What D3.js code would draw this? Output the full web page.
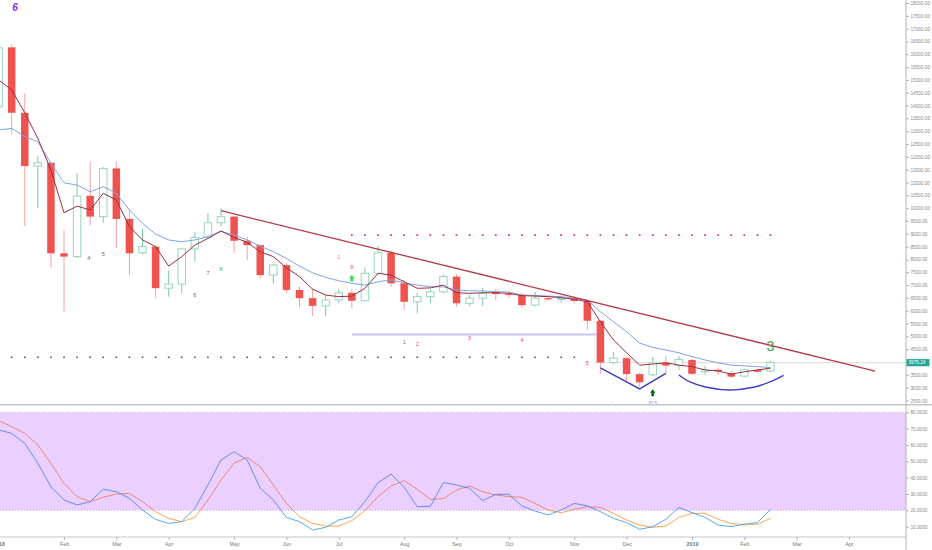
<!DOCTYPE html>
<html><head><meta charset="utf-8">
<script src="https://cdn.jsdelivr.net/npm/d3@7"></script>
<style>body{margin:0;background:#fff;overflow:hidden}svg{display:block;font-family:"Liberation Sans",Arial,sans-serif}</style>
</head><body><svg id="c" width="932" height="550"></svg>
<script>
// ---------- DATA ----------
const weeks = ["2018-01-01","2018-01-08","2018-01-15","2018-01-22","2018-01-29","2018-02-05","2018-02-12","2018-02-19","2018-02-26","2018-03-05",
"2018-03-12","2018-03-19","2018-03-26","2018-04-02","2018-04-09","2018-04-16","2018-04-23","2018-04-30","2018-05-07","2018-05-14",
"2018-05-21","2018-05-28","2018-06-04","2018-06-11","2018-06-18","2018-06-25","2018-07-02","2018-07-09","2018-07-16","2018-07-23",
"2018-07-30","2018-08-06","2018-08-13","2018-08-20","2018-08-27","2018-09-03","2018-09-10","2018-09-17","2018-09-24","2018-10-01",
"2018-10-08","2018-10-15","2018-10-22","2018-10-29","2018-11-05","2018-11-12","2018-11-19","2018-11-26","2018-12-03","2018-12-10",
"2018-12-17","2018-12-24","2018-12-31","2019-01-07","2019-01-14","2019-01-21","2019-01-28","2019-02-04","2019-02-11","2019-02-18"];
const open = [13950,16270,13720,11640,11770,8240,8110,10480,9670,11550,
 9580,8260,8500,6880,7040,8410,8860,9430,9670,8730,
 8560,7390,7780,6810,6490,6190,6420,6700,6390,7460,
 8260,7070,6350,6550,6740,7330,6290,6490,6740,6650,
 6620,6220,6490,6440,6480,6390,5610,3980,4150,3530,
 3500,3970,3860,4080,3620,3700,3560,3450,3690,3650];
const high = [17100,16390,14480,12030,11800,9150,11360,11810,11600,11810,
 9930,9210,8550,7560,8420,9080,9800,9990,9700,8890,
 8580,7850,7850,6940,6880,6610,6840,6840,7690,8520,
 8340,7200,6700,6850,7410,7430,6610,6880,6840,6750,
 6700,6740,6560,6560,6560,6420,5640,4400,4200,3580,
 4200,4235,4230,4130,3845,3780,3650,3740,3740,4040];
const low = [13500,12890,9300,9990,7690,5960,8050,9340,9430,8430,
 7390,8200,6490,6550,6680,7910,8800,9280,8260,7980,
 7260,7070,6680,6160,5800,5800,6310,6100,6350,7400,
 6940,6030,5900,6290,6680,6160,6190,6190,6420,6500,
 6130,6180,6380,6320,6300,5250,3530,3920,3230,3040,
 3450,3560,3690,3500,3500,3500,3380,3420,3580,3600];
const close = [16250,13720,11640,11770,8240,8110,10470,9670,11550,9580,
 8240,8500,6880,7040,8410,8860,9430,9670,8730,8560,
 7390,7780,6810,6490,6190,6420,6700,6390,7460,8260,
 7070,6350,6550,6740,7330,6290,6490,6680,6650,6620,
 6220,6490,6440,6480,6380,5610,3980,4150,3530,3210,
 3970,3860,4100,3540,3700,3640,3430,3700,3620,3975.24];
const maFast = [15000,14610,13720,12720,11490,9820,10080,9930,10580,10320,
 9280,8760,8500,7740,8110,8560,8820,9110,8860,8670,
 8300,8110,7680,7330,6840,6610,6550,6570,6875,7460,
 7390,7130,6875,6890,7000,6700,6680,6700,6700,6680,
 6590,6570,6550,6510,6450,6350,5570,4860,4360,3880,
 3920,3970,3880,3820,3690,3650,3530,3620,3690,3760];
const maSlow = [13050,13110,12790,12590,11750,10990,10900,10640,10840,10580,
 9930,9410,8990,8760,8690,8760,8890,9100,8950,8760,
 8520,8300,8040,7740,7480,7300,7170,7070,7000,7130,
 7200,7090,7000,6940,6930,6810,6780,6770,6740,6730,
 6610,6600,6570,6550,6480,6420,5960,5570,5180,4740,
 4570,4470,4360,4210,4080,3970,3880,3850,3820,3780];
const stochK = [69.2,67.1,61.0,48.8,34.5,26.3,23.3,25.3,32.9,31.4,
 27.4,20.2,14.5,12.0,13.1,21.2,35.5,50.8,55.9,50.8,
 33.5,26.3,15.7,13.1,8.0,9.6,14.1,16.1,25.3,36.9,
 42.2,34.1,22.2,22.5,37.0,35.5,33.5,25.9,29.8,29.8,
 22.7,19.6,17.2,20.2,24.3,22.7,19.2,15.1,12.5,8.4,
 10.0,14.5,21.8,18.6,15.7,11.0,10.0,11.6,12.5,20.6];
const stochD = [74.9,71.2,67.1,60.0,48.8,36.5,28.4,25.3,28.0,30.0,
 30.4,25.3,19.2,15.1,13.1,15.7,26.3,38.6,48.8,52.4,
 46.7,35.5,24.3,16.1,12.0,10.4,10.4,13.7,19.8,28.4,
 34.9,38.2,32.9,26.7,27.2,32.5,34.9,31.4,29.4,28.4,
 28.0,24.3,20.2,18.6,20.6,22.2,21.8,18.2,14.1,11.0,
 9.6,10.4,15.7,18.2,18.2,14.5,12.0,11.0,11.6,15.1];
const priceTicks = [2500,3000,3500,4000,4500,5000,5500,6000,6500,7000,7500,8000,8500,9000,9500,10000,
 10500,11000,11500,12000,12500,13000,13500,14000,14500,15000,15500,16000,16500,17000,17500,18000];
const oscTicks = [10,20,30,40,50,60,70,80];
const monthIdx = [0,5,9,13,18,22,26,31,35,39,44,48,53,57,61,65];
const monthLabels = ["2018","Feb","Mar","Apr","May","Jun","Jul","Aug","Sep","Oct","Nov","Dec","2019","Feb","Mar","Apr"];
const lastPrice = 3975.24;
// drawings (bar index, price)
const trendLine = [[17,9900],[67,3650]];
const vPattern = [[46,3770],[49,2950],[51,3560]];
const bowl = [[52.0,3494],[52.8,3233],[54.1,3015],[55.9,2909],[57.7,3015],[59.0,3233],[60.0,3483]];
const supportLine = [[27,5075],[45.7,5075]];
const redDotLevel = 8950, redDotFrom = 27, redDotTo = 59;
const greyDotLevel = 4185, greyDotFrom = 1, greyDotTo = 44;
const annotIdx = [6.9,8,15,16,17,26,27,31,32,36,40,45];
const annotPrice = [8060,8200,6610,7490,7630,8110,7690,4790,4690,4950,4860,3975];
const annotText = ["4","5","6","7","8","1","9","1","2","3","4","5"];
const bigLabel = {i:59, p:4640, t:"3"};
const cornerLabel = {i:1.25, p:17830, t:"6"};
const upArrow = {i:27, p:7264};
const darkArrow = {i:50, p:2804};
const smallLabel = {i:50, p:2415, t:"815"};

// ---------- STYLES ----------
const annotColor = ["#666","#666","#666","#666","#4caf50","#e0809a","#e0457b","#8c6d9c","#e0457b","#e0457b","#e0457b","#e0457b"];

// ---------- SCALES ----------
const svg = d3.select("#c");
const plotR = 906;
const x = d3.scaleLinear().domain([0,65]).range([-1.4,849]);
const y = d3.scaleLinear().domain([2500,18000]).range([400.5,3]);
const yo = d3.scaleLinear().domain([10,80]).range([526.7,412.3]);

const defs = svg.append("defs");
defs.append("clipPath").attr("id","cm").append("rect").attr("x",0).attr("y",0).attr("width",plotR).attr("height",404);
defs.append("clipPath").attr("id","co").append("rect").attr("x",0).attr("y",406).attr("width",plotR).attr("height",131);

const main = svg.append("g").attr("clip-path","url(#cm)");

// level dots
main.append("g").selectAll("rect").data(d3.range(greyDotFrom, greyDotTo+1)).join("rect")
 .attr("x",d=>x(d)-0.8).attr("y",y(greyDotLevel)-0.8).attr("width",1.6).attr("height",1.6).attr("fill","#555");
main.append("g").selectAll("rect").data(d3.range(redDotFrom, redDotTo+1)).join("rect")
 .attr("x",d=>x(d)-0.9).attr("y",y(redDotLevel)-0.9).attr("width",1.8).attr("height",1.8).attr("fill","#e0407a");

// support line & last price line
main.append("line").attr("x1",x(supportLine[0][0])).attr("x2",x(supportLine[1][0]))
 .attr("y1",y(supportLine[0][1])).attr("y2",y(supportLine[1][1])).attr("stroke","#c9c3f3").attr("stroke-width",2);
main.append("line").attr("x1",x(45.5)).attr("x2",plotR).attr("y1",y(lastPrice)).attr("y2",y(lastPrice))
 .attr("stroke","#dcdcdc").attr("stroke-width",1);

// candles
const bars = weeks.map((w,i)=>({i,o:open[i],h:high[i],l:low[i],c:close[i]}));
const bw = 7.5;
main.append("g").selectAll("line").data(bars).join("line")
 .attr("x1",d=>x(d.i)).attr("x2",d=>x(d.i)).attr("y1",d=>y(d.h)).attr("y2",d=>y(d.l))
 .attr("stroke",d=>d.c>=d.o?"#7cc7a6":"#f3a2a2").attr("stroke-width",1);
main.append("g").selectAll("rect").data(bars).join("rect")
 .attr("x",d=>x(d.i)-bw/2).attr("width",bw)
 .attr("y",d=>y(Math.max(d.o,d.c))).attr("height",d=>Math.max(1,Math.abs(y(d.o)-y(d.c))))
 .attr("fill",d=>d.c>=d.o?"#fff":"#ef5350")
 .attr("stroke",d=>d.c>=d.o?"#96d6bb":"none").attr("stroke-width",1);

// moving averages
const lineGen = d3.line().x((d,i)=>x(i)).y(d=>y(d));
main.append("path").attr("d",lineGen(maSlow)).attr("fill","none").attr("stroke","#7fa3e8").attr("stroke-width",1);
main.append("path").attr("d",lineGen(maFast)).attr("fill","none").attr("stroke","#9b2f3f").attr("stroke-width",1);

// drawings
const pLine = d3.line().x(d=>x(d[0])).y(d=>y(d[1]));
main.append("path").attr("d",pLine(trendLine)).attr("fill","none").attr("stroke","#b33a48").attr("stroke-width",1.3);
main.append("path").attr("d",pLine(vPattern)).attr("fill","none").attr("stroke","#3a3acc").attr("stroke-width",1.4);
main.append("path").attr("d",pLine.curve(d3.curveCatmullRom)(bowl)).attr("fill","none").attr("stroke","#3a3acc").attr("stroke-width",1.4);

// annotations
main.append("g").selectAll("text").data(annotText).join("text")
 .attr("x",(d,j)=>x(annotIdx[j])).attr("y",(d,j)=>y(annotPrice[j]))
 .attr("text-anchor","middle").attr("dominant-baseline","central")
 .attr("font-size",5.5).attr("fill",(d,j)=>annotColor[j]).text(d=>d);
main.append("text").attr("x",x(bigLabel.i)).attr("y",y(bigLabel.p)).attr("text-anchor","middle")
 .attr("dominant-baseline","central").attr("font-size",14).attr("fill","#479a47").text(bigLabel.t);
main.append("text").attr("x",x(cornerLabel.i)).attr("y",y(cornerLabel.p)).attr("text-anchor","middle")
 .attr("dominant-baseline","central").attr("font-size",10).attr("font-weight","bold").attr("font-style","italic")
 .attr("fill","#8a2be2").text(cornerLabel.t);
function arrowPath(cx,cy,w,h){
 return `M${cx},${cy-h/2}L${cx+w/2},${cy}L${cx+w/4},${cy}L${cx+w/4},${cy+h/2}L${cx-w/4},${cy+h/2}L${cx-w/4},${cy}L${cx-w/2},${cy}Z`;
}
main.append("path").attr("d",arrowPath(x(upArrow.i),y(upArrow.p),6,6.5)).attr("fill","#3edc5c");
main.append("path").attr("d",arrowPath(x(darkArrow.i),y(darkArrow.p),5.5,7)).attr("fill","#0b6b10");
svg.append("text").attr("x",x(smallLabel.i)).attr("y",y(smallLabel.p)).attr("text-anchor","middle")
 .attr("dominant-baseline","central").attr("font-size",5).attr("fill","#5aa6e0").text(smallLabel.t);
svg.append("text").attr("x",x(46.9)).attr("y",y(smallLabel.p)).attr("text-anchor","middle")
 .attr("dominant-baseline","central").attr("font-size",4.5).attr("fill","#999").text("-");

// ---------- OSCILLATOR ----------
const osc = svg.append("g").attr("clip-path","url(#co)");
const oLine = d3.line().x((d,i)=>x(i)).y(d=>yo(d));
osc.append("path").attr("d",oLine(stochD)).attr("fill","none").attr("stroke","#ff9a3c").attr("stroke-width",0.9);
osc.append("path").attr("d",oLine(stochK)).attr("fill","none").attr("stroke","#3f9ff0").attr("stroke-width",0.9);
osc.append("rect").attr("x",0).attr("width",plotR).attr("y",yo(80)).attr("height",yo(20)-yo(80))
 .attr("fill","rgba(153,21,255,0.2)");
[80,20].forEach(v=>osc.append("line").attr("x1",0).attr("x2",plotR).attr("y1",yo(v)).attr("y2",yo(v))
 .attr("stroke","#c0a8dc").attr("stroke-width",0.8).attr("stroke-dasharray","1,2"));

// ---------- FRAME & AXES ----------
svg.append("line").attr("x1",0).attr("x2",932).attr("y1",404.8).attr("y2",404.8).attr("stroke","#c6c6c6").attr("stroke-width",1.6);
svg.append("line").attr("x1",0).attr("x2",plotR).attr("y1",537).attr("y2",537).attr("stroke","#c6c6c6").attr("stroke-width",1);
svg.append("line").attr("x1",plotR).attr("x2",plotR).attr("y1",0).attr("y2",550).attr("stroke","#b3b3b3").attr("stroke-width",1);

function styleAxis(g, fs){
 g.select(".domain").remove();
 g.selectAll(".tick line").attr("stroke","#b3b3b3");
 g.selectAll(".tick text").attr("fill","#8a8a8a").attr("font-size",fs).attr("font-family","Liberation Sans, Arial, sans-serif");
}
const pa = svg.append("g").attr("transform",`translate(${plotR},0)`)
 .call(d3.axisRight(y).tickValues(priceTicks).tickFormat(d3.format(".2f")).tickSize(3).tickPadding(1.5));
styleAxis(pa, 4.7);
// the tick label hidden behind the last-price badge
pa.selectAll(".tick").filter(d=>Math.abs(y(d)-y(lastPrice))<5).select("text").remove();
const oa = svg.append("g").attr("transform",`translate(${plotR},0)`)
 .call(d3.axisRight(yo).tickValues(oscTicks).tickFormat(d3.format(".4f")).tickSize(3).tickPadding(1.5));
styleAxis(oa, 4.7);
const ba = svg.append("g").attr("transform","translate(0,537)")
 .call(d3.axisBottom(x).tickValues(monthIdx).tickFormat((d,j)=>monthLabels[j]).tickSize(3).tickPadding(2));
styleAxis(ba, 5.3);
ba.selectAll(".tick text").attr("fill","#777").attr("font-weight",(d,j)=>/^\d{4}$/.test(monthLabels[j])?"bold":"normal");

// last price label
svg.append("rect").attr("x",plotR+0.5).attr("y",y(lastPrice)-3.6).attr("width",23).attr("height",7.2).attr("fill","#26a69a");
svg.append("text").attr("x",plotR+2.5).attr("y",y(lastPrice)).attr("dominant-baseline","central")
 .attr("font-size",4.7).attr("fill","#fff").text(d3.format(".2f")(lastPrice));
</script></body></html>
